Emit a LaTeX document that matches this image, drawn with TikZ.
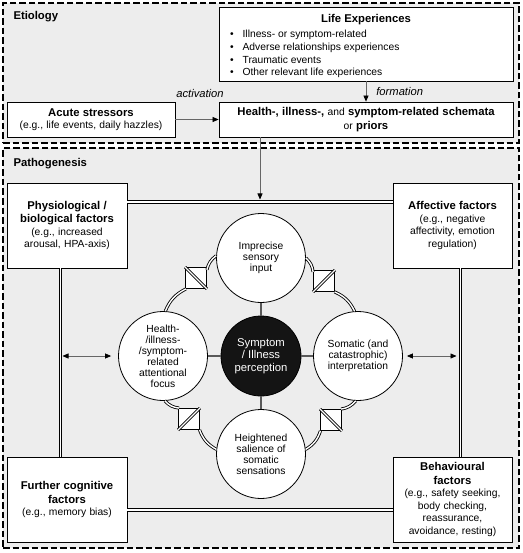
\documentclass[tikz,border=0pt]{standalone}
\usepackage{fontspec}
\setmainfont{Liberation Sans}
\usetikzlibrary{arrows.meta,calc}
\newcommand{\bfs}{\fontsize{11.3}{13.5}\selectfont\bfseries}
\newcommand{\rgs}{\fontsize{10.3}{12.5}\selectfont\mdseries}
\newcommand{\cfs}{\fontsize{10.3}{11}\selectfont}
\newcommand{\corefs}{\fontsize{11.3}{12.5}\selectfont}
\newcommand{\itfs}{\fontsize{11.2}{13}\selectfont\itshape}
\begin{document}
\begin{tikzpicture}[x=1pt,y=-1pt,
  region/.style={draw=black, line width=2.4pt, dash pattern=on 6.5pt off 3pt, fill=black!7, inner sep=0pt},
  box/.style={draw=black, line width=0.8pt, fill=white, inner sep=0pt, align=center},
  circ/.style={circle, draw=black, line width=0.8pt, fill=white, inner sep=0pt, minimum size=89pt, align=center, font=\cfs},
  core/.style={circle, fill=black!92, draw=black, line width=0.8pt, minimum size=80pt, inner sep=0pt, align=center, text=white, font=\corefs},
  dbl/.style={draw=black, line width=0.85pt, double=white, double distance=1.4pt},
  valve/.style={draw=black, line width=0.8pt, fill=white, minimum size=21pt, inner sep=0pt},
  arr/.style={draw=black!60, line width=0.7pt, -{Triangle[length=6pt,width=5pt,color=black]}},
  darr/.style={draw=black!60, line width=0.7pt, {Triangle[length=6pt,width=5pt,color=black]}-{Triangle[length=6pt,width=5pt,color=black]}},
  spoke/.style={draw=black!65, line width=1.2pt},
  lbl/.style={font=\itfs, inner sep=0pt},
  head/.style={font=\bfs, anchor=base west, inner sep=0pt}]
\useasboundingbox (0,0) rectangle (522,553);
% regions
\node[region, minimum width=516pt, minimum height=140pt] (etio) at (261,73) {};
\node[region, minimum width=516pt, minimum height=400pt] (patho) at (261,348) {};
\node[head] (etiolbl) at (13.3,19.5) {Etiology};
\node[head] (patholbl) at (13.3,167) {Pathogenesis};
% etiology boxes
\node[box, minimum width=294pt, minimum height=74pt] (life) at (366,44) {%
  \begin{minipage}{272pt}\vspace*{6pt}\centering{\bfs Life Experiences\par}\vspace{2.5pt}\raggedright\rgs
  \renewcommand{\arraystretch}{1.03}%
  \begin{tabular}{@{}l@{\hspace{9pt}}l@{}}
  \textbullet & Illness- or symptom-related\\
  \textbullet & Adverse relationships experiences\\
  \textbullet & Traumatic events\\
  \textbullet & Other relevant life experiences
  \end{tabular}\end{minipage}};
\node[box, minimum width=294pt, minimum height=35pt, text width=290pt] (schema) at (366,119.5)
  {\bfs Health-, illness-, {\rgs and} symptom-related schemata\\{\rgs or} priors\par};
\node[box, minimum width=168pt, minimum height=35pt, text width=164pt] (acute) at (91,119.5)
  {{\bfs Acute stressors\par}\rgs (e.g., life events, daily hazzles)\par};
\draw[arr] (acute) -- node[lbl, above=22pt, xshift=3pt] {activation} (schema);
\draw[arr] (life) -- node[lbl, right=10pt] {formation} (schema);
% pathogenesis factor boxes
\coordinate (hl) at (260,202);
\coordinate (bl) at (260,510);
\coordinate (vl) at (60.5,356);
\coordinate (vr) at (460.5,356);
\node[box, minimum width=120pt, minimum height=85pt, text width=116pt] (phys) at (67,225.5)
  {{\bfs Physiological /\\biological factors\par}\rgs (e.g., increased\\arousal, HPA-axis)\par};
\node[box, minimum width=119pt, minimum height=85pt, text width=115pt] (aff) at (452.5,225.5)
  {{\bfs Affective factors\par}\rgs (e.g., negative\\affectivity, emotion\\regulation)\par};
\node[box, minimum width=120pt, minimum height=85pt, text width=116pt] (cog) at (67,499.5)
  {{\bfs Further cognitive\\factors\par}\rgs (e.g., memory bias)\par};
\node[box, minimum width=119pt, minimum height=85pt, text width=115pt] (beh) at (452.5,499.5)
  {{\bfs Behavioural\\factors\par}\rgs (e.g., safety seeking,\\body checking,\\reassurance,\\avoidance, resting)\par};
\draw[dbl] (phys.east |- hl) -- (aff.west |- hl);
\draw[dbl] (cog.east |- bl) -- (beh.west |- bl);
\draw[dbl] (phys.south -| vl) -- (cog.north -| vl);
\draw[dbl] (aff.south -| vr) -- (beh.north -| vr);
\draw[arr, shorten >=2.5pt] (schema.south -| hl) -- (hl);
% central model
\node[core] (core) at (261,356) {Symptom\\/ Illness\\perception};
\node[circ] (top) at (261,258) {Imprecise\\sensory\\input};
\node[circ] (bot) at (261,454) {Heightened\\salience of\\somatic\\sensations};
\node[circ] (left) at (163,356) {Health-\\/illness-\\/symptom-\\related\\attentional\\focus};
\node[circ] (right) at (358,356) {Somatic (and\\catastrophic)\\interpretation};
\node[valve] (sqTL) at (196,278) {};
\node[valve] (sqTR) at (324,281) {};
\node[valve] (sqBL) at (189,419) {};
\node[valve] (sqBR) at (331,420) {};
\draw[dbl] (sqTL.north west) -- (sqTL.south east);
\draw[dbl] (sqTR.south west) -- (sqTR.north east);
\draw[dbl] (sqBL.south west) -- (sqBL.north east);
\draw[dbl] (sqBR.north west) -- (sqBR.south east);
\draw[dbl] (top) to[bend left=20] (sqTR);
\draw[dbl] (sqTR) to[bend left=20] (right);
\draw[dbl] (right) to[bend left=20] (sqBR);
\draw[dbl] (sqBR) to[bend left=20] (bot);
\draw[dbl] (bot) to[bend left=20] (sqBL);
\draw[dbl] (sqBL) to[bend left=20] (left);
\draw[dbl] (left) to[bend left=20] (sqTL);
\draw[dbl] (sqTL) to[bend left=20] (top);
\draw[spoke] (core) -- (top);
\draw[spoke] (core) -- (bot);
\draw[spoke] (core) -- (left);
\draw[spoke] (core) -- (right);
\draw[darr, shorten <=2pt, shorten >=7pt] (vl) -- (left);
\draw[darr, shorten <=4pt, shorten >=4pt] (right) -- (vr);
\end{tikzpicture}
\end{document}
